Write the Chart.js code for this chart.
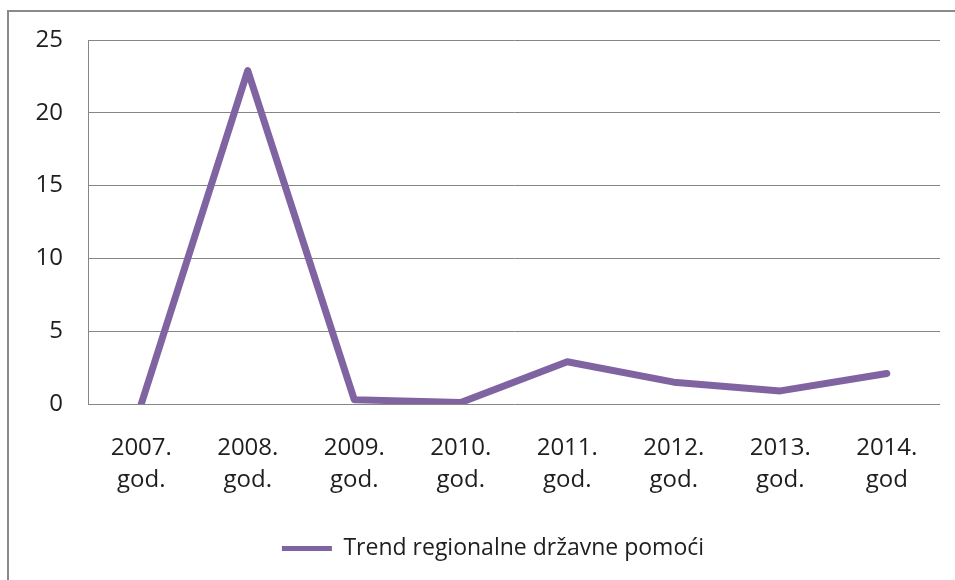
<!DOCTYPE html>
<html>
<head>
<meta charset="utf-8">
<script src="https://cdn.jsdelivr.net/npm/chart.js@4"></script>
<style>
  html, body { margin: 0; padding: 0; background: #fff; overflow: hidden; }
  #wrap { position: relative; width: 955px; height: 580px; }
  #frame {
    position: absolute; left: 7px; top: 10px; width: 1000px; height: 700px;
    border: 2px solid #8a8a8a; box-sizing: border-box;
  }
  canvas { position: absolute; left: 0; top: 0; }
</style>
</head>
<body>
<div id="wrap">
  <div id="frame"></div>
  <canvas id="myChart" width="955" height="580"></canvas>
</div>
<script>
// podaci s grafikona
const godine = [
  ['2007.', 'god.'], ['2008.', 'god.'], ['2009.', 'god.'], ['2010.', 'god.'],
  ['2011.', 'god.'], ['2012.', 'god.'], ['2013.', 'god.'], ['2014.', 'god']
];
const trendPomoci = [0, 22.9, 0.3, 0.1, 2.9, 1.5, 0.9, 2.1];
const nazivSerije = 'Trend regionalne državne pomoći';
const yTicks = [0, 5, 10, 15, 20, 25];

const ljubicasta = '#8064A2';
const mreza = '#868686';
const tekst = '#1e1e1e';
const obitelj = '"Open Sans", "Noto Sans", sans-serif';

// legenda je u originalu malo desno od sredine
const pomakLegende = {
  id: 'pomakLegende',
  afterLayout(chart) {
    chart.legend.left += 23;
    chart.legend.right += 23;
  }
};

const ctx = document.getElementById('myChart').getContext('2d');
new Chart(ctx, {
  type: 'line',
  data: {
    labels: godine,
    datasets: [{
      label: nazivSerije,
      data: trendPomoci,
      borderColor: ljubicasta,
      backgroundColor: ljubicasta,
      borderWidth: 7,
      borderCapStyle: 'round',
      borderJoinStyle: 'round',
      pointRadius: 0,
      pointHoverRadius: 0,
      tension: 0,
      fill: false,
      clip: 0
    }]
  },
  options: {
    responsive: false,
    animation: false,
    events: [],
    layout: { padding: { top: 40, right: 15, left: 0, bottom: 10 } },
    plugins: {
      tooltip: { enabled: false },
      legend: {
        position: 'bottom',
        labels: {
          usePointStyle: true,
          pointStyle: 'line',
          pointStyleWidth: 50,
          padding: 10,
          color: tekst,
          font: { family: obitelj, size: 23 },
          generateLabels: (chart) => {
            const items = Chart.defaults.plugins.legend.labels.generateLabels(chart);
            items.forEach(it => { it.lineWidth = 5; });
            return items;
          }
        }
      }
    },
    scales: {
      x: {
        offset: true,
        grid: { display: false, drawTicks: false },
        border: { display: false },
        ticks: {
          color: tekst,
          padding: 28,
          maxRotation: 0,
          autoSkip: false,
          font: { family: obitelj, size: 24, lineHeight: 1.33 }
        },
        afterFit: (axis) => { axis.height = 123; }
      },
      y: {
        min: 0,
        max: 25,
        afterBuildTicks: (axis) => { axis.ticks = yTicks.map(v => ({ value: v })); },
        grid: { color: mreza, lineWidth: 1, drawTicks: false },
        border: { display: true, color: mreza, width: 1 },
        ticks: { color: tekst, padding: 25, font: { family: obitelj, size: 24 } },
        afterFit: (axis) => { axis.width = 88; }
      }
    }
  },
  plugins: [pomakLegende]
});
</script>
</body>
</html>
